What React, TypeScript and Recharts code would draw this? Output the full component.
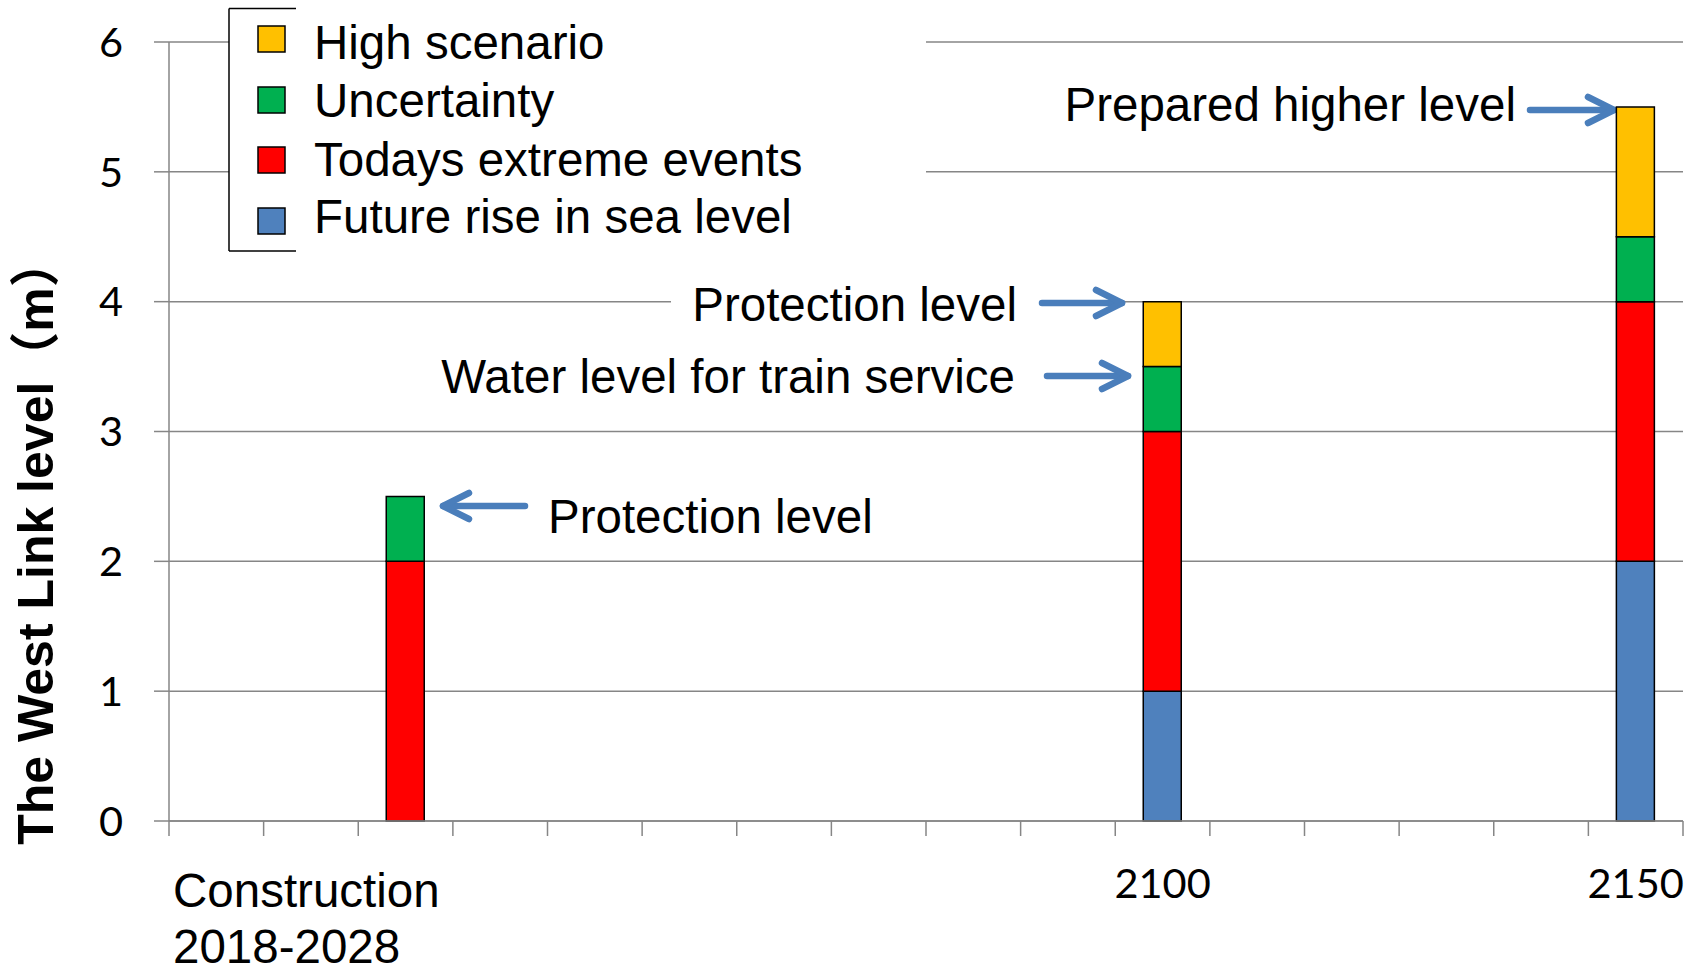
import React from "react";
import { Bar, BarChart, CartesianGrid, Customized, XAxis, YAxis } from "recharts";

// categories along the time axis (only three carry a bar and a label)
const categories = [
  "", "", "Construction\n2018-2028", "", "", "", "", "", "", "", "2100", "", "", "", "", "2150",
];
const futureRise = [0, 0, 0, 0, 0, 0, 0, 0, 0, 0, 1, 0, 0, 0, 0, 2];
const todaysExtreme = [0, 0, 2, 0, 0, 0, 0, 0, 0, 0, 2, 0, 0, 0, 0, 2];
const uncertainty = [0, 0, 0.5, 0, 0, 0, 0, 0, 0, 0, 0.5, 0, 0, 0, 0, 0.5];
const highScenario = [0, 0, 0, 0, 0, 0, 0, 0, 0, 0, 0.5, 0, 0, 0, 0, 1];
const yTicks = [0, 1, 2, 3, 4, 5, 6];

const legendLabels = ["High scenario", "Uncertainty", "Todays extreme events", "Future rise in sea level"];
const legendColors = ["#FFC000", "#00B050", "#FF0000", "#4F81BD"];

const data = categories.map((cat, i) => ({
  cat,
  future: futureRise[i],
  extreme: todaysExtreme[i],
  uncert: uncertainty[i],
  high: highScenario[i],
}));

const W = 1700;
const H = 970;
const PLOT_LEFT = 169;
const PLOT_RIGHT = 17;
const BAND = (W - PLOT_LEFT - PLOT_RIGHT) / categories.length;

const GRID = "#868686";
const ARROW = "#4A7EBB";
const ARIAL = "'Liberation Sans', Arial, sans-serif";
const CALIBRI = "Lato, 'Liberation Sans', sans-serif";

function CategoryTick(props: any) {
  const { x, y, payload, index } = props;
  const lines = String(payload.value).split("\n").filter(Boolean);
  return (
    <g>
      <line x1={x - BAND / 2} x2={x - BAND / 2} y1={y} y2={y + 15} stroke={GRID} strokeWidth={1.5} />
      {index === categories.length - 1 && (
        <line x1={x + BAND / 2} x2={x + BAND / 2} y1={y} y2={y + 15} stroke={GRID} strokeWidth={1.5} />
      )}
      {lines.length === 1 && (
        <text x={x} y={y + 77} textAnchor="middle" fontFamily={CALIBRI} fontSize={41.5} fill="#000">
          {lines[0]}
        </text>
      )}
      {lines.length > 1 && (
        <text x={PLOT_LEFT + 4} y={y + 86} textAnchor="start" fontFamily={ARIAL} fontSize={47.5} fill="#000">
          {lines.map((l, k) => (
            <tspan key={k} x={PLOT_LEFT + 4} dy={k === 0 ? 0 : 56}>
              {l}
            </tspan>
          ))}
        </text>
      )}
    </g>
  );
}

function Arrow({ x1, x2, y }: { x1: number; x2: number; y: number }) {
  const dir = Math.sign(x2 - x1);
  return (
    <g stroke={ARROW} strokeWidth={6.5} strokeLinecap="round" strokeLinejoin="round" fill="none">
      <line x1={x1} y1={y} x2={x2} y2={y} />
      <polyline points={`${x2 - dir * 26},${y - 13} ${x2},${y} ${x2 - dir * 26},${y + 13}`} />
    </g>
  );
}

function Overlay() {
  const rowY = [39, 100, 160, 221];
  const textY = [59, 117, 176, 233];
  return (
    <g>
      {/* legend */}
      <rect x={229} y={8.5} width={697} height={242.5} fill="#fff" />
      <line x1={229} y1={8.5} x2={229} y2={251} stroke="#000" strokeWidth={1.5} />
      <line x1={229} y1={8.5} x2={296} y2={8.5} stroke="#000" strokeWidth={1.5} />
      <line x1={229} y1={251} x2={296} y2={251} stroke="#000" strokeWidth={1.5} />
      {legendLabels.map((label, i) => (
        <g key={label}>
          <rect x={258} y={rowY[i] - 13} width={27} height={26} fill={legendColors[i]} stroke="#000" strokeWidth={1.5} />
          <text x={314} y={textY[i]} fontFamily={ARIAL} fontSize={47.5} fill="#000">
            {label}
          </text>
        </g>
      ))}

      {/* annotations */}
      <text x={1516} y={121} textAnchor="end" fontFamily={ARIAL} fontSize={47.5} fill="#000">
        Prepared higher level
      </text>
      <Arrow x1={1530} x2={1614} y={110} />

      <rect x={671} y={280} width={369} height={55} fill="#fff" />
      <text x={1017} y={321} textAnchor="end" fontFamily={ARIAL} fontSize={47.5} fill="#000">
        Protection level
      </text>
      <Arrow x1={1042} x2={1122} y={303} />

      <text x={1015} y={393} textAnchor="end" fontFamily={ARIAL} fontSize={47.5} fill="#000">
        Water level for train service
      </text>
      <Arrow x1={1047} x2={1128} y={376} />

      <text x={548} y={533} textAnchor="start" fontFamily={ARIAL} fontSize={47.5} fill="#000">
        Protection level
      </text>
      <Arrow x1={525} x2={443} y={506} />

      {/* y axis title */}
      <text
        transform="translate(53,541) rotate(-90)"
        textAnchor="middle"
        fontFamily="'Liberation Sans', Arial, 'Noto Sans CJK SC', sans-serif"
        fontWeight="bold"
        fontSize={50}
        fill="#000"
      >
        The West Link level（m）
      </text>
    </g>
  );
}

export default function App() {
  return (
    <div style={{ position: "absolute", left: 0, top: 0, width: W, height: H, background: "#fff" }}>
      <BarChart width={W} height={H} data={data} margin={{ top: 42, right: PLOT_RIGHT, bottom: 0, left: 0 }} barSize={38}>
        <CartesianGrid vertical={false} stroke={GRID} strokeWidth={1.5} />
        <Customized component={Overlay} />
        <XAxis
          dataKey="cat"
          interval={0}
          height={149}
          tickSize={0}
          tickMargin={0}
          tickLine={false}
          axisLine={{ stroke: GRID, strokeWidth: 1.5 }}
          tick={<CategoryTick />}
        />
        <YAxis
          type="number"
          domain={[0, 6]}
          ticks={yTicks}
          interval={0}
          width={PLOT_LEFT}
          tickSize={15}
          tickMargin={31}
          axisLine={{ stroke: GRID, strokeWidth: 1.5 }}
          tickLine={{ stroke: GRID, strokeWidth: 1.5 }}
          tick={{ fill: "#000", fontSize: 41.5, fontFamily: CALIBRI }}
        />
        <Bar dataKey="future" stackId="a" fill="#4F81BD" stroke="#000" strokeWidth={1.5} isAnimationActive={false} />
        <Bar dataKey="extreme" stackId="a" fill="#FF0000" stroke="#000" strokeWidth={1.5} isAnimationActive={false} />
        <Bar dataKey="uncert" stackId="a" fill="#00B050" stroke="#000" strokeWidth={1.5} isAnimationActive={false} />
        <Bar dataKey="high" stackId="a" fill="#FFC000" stroke="#000" strokeWidth={1.5} isAnimationActive={false} />
      </BarChart>
    </div>
  );
}
